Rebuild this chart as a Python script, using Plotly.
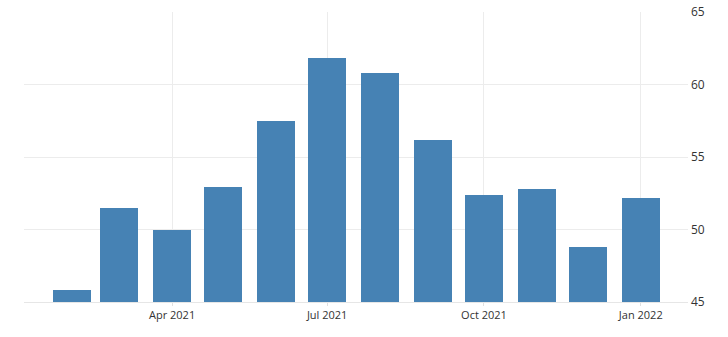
import plotly.graph_objects as go

months = ["2021-02-01", "2021-03-01", "2021-04-01", "2021-05-01", "2021-06-01", "2021-07-01",
          "2021-08-01", "2021-09-01", "2021-10-01", "2021-11-01", "2021-12-01", "2022-01-01"]
values = [45.8, 51.5, 50.0, 52.9, 57.5, 61.8, 60.8, 56.2, 52.4, 52.8, 48.8, 52.2]
tick_dates = ["2021-04-01", "2021-07-01", "2021-10-01", "2022-01-01"]
tick_labels = ["Apr 2021", "Jul 2021", "Oct 2021", "Jan 2022"]
y_ticks = [45, 50, 55, 60, 65]

DAY_MS = 24 * 3600 * 1000
bar_width = 22.3 * DAY_MS

fig = go.Figure(go.Bar(
    x=months, y=values,
    width=[bar_width] * len(months),
    marker=dict(color="#4682B4", line=dict(width=0)),
))

fig.update_layout(
    width=728, height=337,
    margin=dict(l=24, r=40, t=12, b=35, autoexpand=False),
    paper_bgcolor="white", plot_bgcolor="white",
    showlegend=False,
    font=dict(family="Open Sans", size=11, color="#333333"),
    xaxis=dict(
        type="date",
        range=["2021-01-04 03:00", "2022-01-28 17:00"],
        tickvals=tick_dates, ticktext=tick_labels,
        showgrid=True, gridcolor="#ececec", gridwidth=1,
        ticks="outside", ticklen=3, tickcolor="#e0e0e0",
        showline=True, linecolor="#e6e6e6", linewidth=1,
        zeroline=False, automargin=False,
        tickfont=dict(size=11, color="#333333"),
    ),
    yaxis=dict(
        side="right",
        range=[45, 65],
        tickvals=y_ticks,
        showgrid=True, gridcolor="#ececec", gridwidth=1,
        zeroline=False, showline=False, automargin=False,
        ticks="", ticklabelstandoff=2,
        tickfont=dict(size=12, color="#333333"),
    ),
    bargap=0,
)

fig.write_html("out.html")
